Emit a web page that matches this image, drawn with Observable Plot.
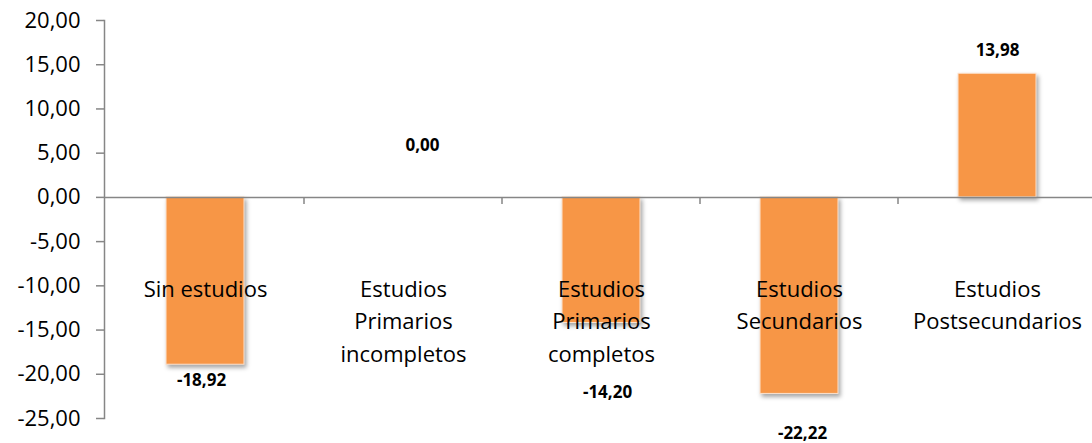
<!DOCTYPE html>
<html><head><meta charset="utf-8">
<script src="https://cdn.jsdelivr.net/npm/d3@7"></script>
<script src="https://cdn.jsdelivr.net/npm/@observablehq/plot@0.6"></script>
<style>
body{margin:0;background:#fff}
.bars rect{filter:drop-shadow(2px 3px 2px rgba(0,0,0,0.35));}
</style>
</head><body><div id="chart"></div>
<script>
const categories = ["Sin estudios","Estudios Primarios incompletos","Estudios Primarios completos","Estudios Secundarios","Estudios Postsecundarios"];
const categoryLabels = ["Sin estudios","Estudios\nPrimarios\nincompletos","Estudios\nPrimarios\ncompletos","Estudios\nSecundarios","Estudios\nPostsecundarios"];
const values = [-18.92, 0.00, -14.20, -22.22, 13.98];
const yTicks = [-25,-20,-15,-10,-5,0,5,10,15,20];

const data = categories.map((c,i)=>({category:c,label:categoryLabels[i],value:values[i]}));
const fmt = v => v.toFixed(2).replace(".", ",");
const axisColor = "#868686";
const font = "'Open Sans', sans-serif";

function valueLabel(i, dx, dy) {
  return Plot.text([data[i]], {x:"category", y:"value", text:d=>fmt(d.value), dx, dy,
    fontWeight:"bold", fontSize:17, fill:"#000"});
}

function boundaryTicks(index, scales) {
  const {x, y} = scales;
  const g = d3.create("svg:g");
  categories.slice(1).forEach(c => {
    const px = x(c);
    g.append("line").attr("x1", px).attr("x2", px).attr("y1", y(0)).attr("y2", y(0)+7)
      .attr("stroke", axisColor).attr("stroke-width", 1.5);
  });
  return g.node();
}

const chart = Plot.plot({
  width:1092, height:443, marginLeft:104, marginRight:-5, marginTop:20, marginBottom:25,
  style:{fontFamily:font, background:"#fff", overflow:"visible"},
  x:{domain:categories, padding:0, axis:null},
  y:{domain:[-25,20], axis:null},
  marks:[
    Plot.barY(data,{x:"category", y:"value", fill:"#F79646", insetLeft:60, insetRight:60,
      stroke:"#fde3cf", strokeWidth:1, className:"bars"}),
    Plot.ruleY([0],{stroke:axisColor, strokeWidth:1.5}),
    boundaryTicks,
    Plot.frame({anchor:"left", stroke:axisColor, strokeWidth:1.5}),
    Plot.axisY({ticks:yTicks, tickFormat:fmt, tickSize:8, tickPadding:16, fontSize:22,
      stroke:axisColor, fill:"#000", strokeWidth:1.5, label:null}),
    Plot.text(data, {x:"category", text:"label", frameAnchor:"top", lineAnchor:"top", dy:253,
      fontSize:22, lineHeight:1.48, fill:"#000"}),
    valueLabel(0, -4, 16),
    valueLabel(1, 19, -52),
    valueLabel(2, 6, 70),
    valueLabel(3, 3, 40),
    valueLabel(4, 0, -23)
  ]
});
document.getElementById("chart").appendChild(chart);
</script>
</body></html>
